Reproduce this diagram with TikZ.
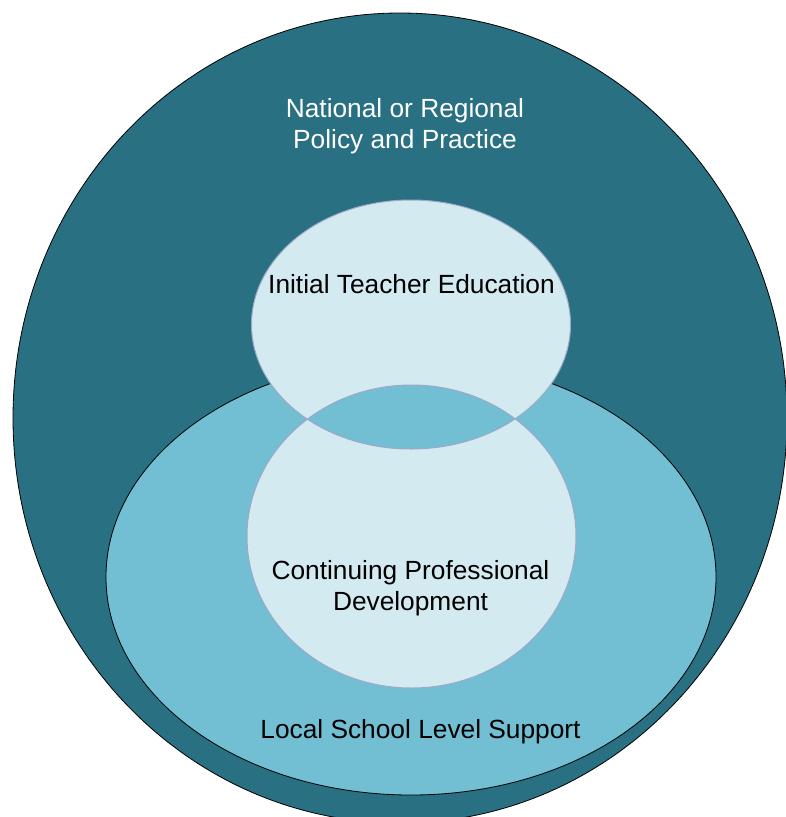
\documentclass[tikz,border=0pt]{standalone}
\usepackage{fontspec}
\setmainfont{Liberation Sans}
\definecolor{darkteal}{RGB}{40,112,130}
\definecolor{midblue}{RGB}{114,190,211}
\definecolor{lightblue}{RGB}{211,235,240}
\definecolor{softedge}{RGB}{160,168,200}
\tikzset{
  outerline/.style={draw=black,line width=0.8pt},
  innerline/.style={draw=softedge,line width=1pt},
  label/.style={font=\fontsize{26.3}{31}\selectfont,align=center,inner sep=0pt,anchor=base}
}
\begin{document}
\begin{tikzpicture}[x=1pt,y=1pt]
\useasboundingbox (0,0) rectangle (786,-817);
\clip (0,0) rectangle (786,-817);
% outer national circle
\path[fill=darkteal,outerline] (400,-418) ellipse [x radius=387,y radius=405];
% local school ellipse
\path[fill=midblue,outerline] (411,-577) ellipse [x radius=305,y radius=218];
% ITE ellipse
\path[fill=lightblue] (411,-324.5) ellipse [x radius=159.5,y radius=124.5];
% CPD ellipse
\path[fill=lightblue] (411.5,-536.5) ellipse [x radius=164.5,y radius=151.5];
% lens
\begin{scope}
\clip (411,-324.5) ellipse [x radius=159.5,y radius=124.5];
\path[fill=midblue] (411.5,-536.5) ellipse [x radius=164.5,y radius=151.5];
\end{scope}
\path[innerline] (411,-324.5) ellipse [x radius=159.5,y radius=124.5];
\path[innerline] (411.5,-536.5) ellipse [x radius=164.5,y radius=151.5];
% labels
\node[label,text=white] (national) at (405,-148) {National or Regional\\Policy and Practice};
\node[label] (ite) at (411.5,-293) {Initial Teacher Education};
\node[label] (cpd) at (410.5,-610) {Continuing Professional\\Development};
\node[label] (local) at (420.5,-738) {Local School Level Support};
\end{tikzpicture}
\end{document}
